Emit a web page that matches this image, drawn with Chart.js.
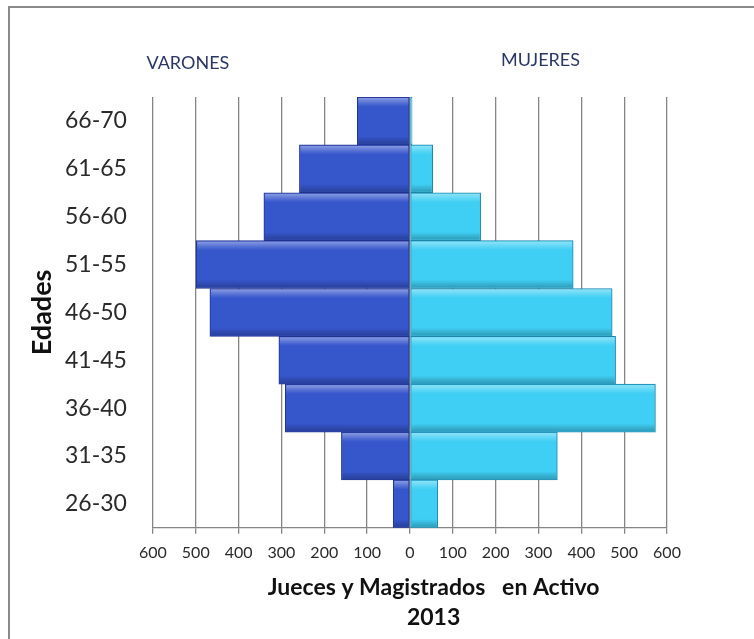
<!DOCTYPE html>
<html>
<head>
<meta charset="utf-8">
<script src="https://cdn.jsdelivr.net/npm/chart.js@4.4.1/dist/chart.umd.min.js"></script>
<style>
    html, body { margin: 0; padding: 0; background: #fff; overflow: hidden; }
    #wrap { position: relative; width: 754px; height: 639px; }
    #frame {
        position: absolute; left: 8px; top: 6px; width: 800px; height: 700px;
        border: 2px solid #8a8a8a; box-sizing: border-box;
    }
    #wrap canvas { position: absolute; left: 0; top: 0; }
</style>
</head>
<body>
<div id="wrap">
    <div id="frame"></div>
    <canvas id="pyramid" width="754" height="639"></canvas>
</div>
<script>
// Age groups, top row first
var ageGroups = ['66-70', '61-65', '56-60', '51-55', '46-50', '41-45', '36-40', '31-35', '26-30'];
// Men are drawn to the left, stored as positive counts
var varones = [123, 258, 341, 499, 467, 306, 291, 160, 39];
var mujeres = [5, 53, 165, 381, 472, 480, 573, 344, 65];
var axisMax = 600;
var axisStep = 100;

(function () {
    var canvas = document.getElementById('pyramid');
    if (!canvas) return;
    var ctx = canvas.getContext('2d');

    // side captions, y title and bottom title, placed relative to the plot area
    var captionsPlugin = {
        id: 'captions',
        afterDraw: function (chart) {
            var c = chart.ctx;
            var ca = chart.chartArea;
            var w = ca.right - ca.left;
            var midX = ca.left + w * 0.546;
            c.save();
            c.textAlign = 'center';
            c.textBaseline = 'middle';
            c.fillStyle = '#2b3763';
            c.font = '18px Lato, sans-serif';
            c.fillText('VARONES', ca.left + w * 0.068, ca.top - 34);
            c.fillText('MUJERES', ca.left + w * 0.754, ca.top - 37);
            c.fillStyle = '#111';
            c.font = 'bold 23px Lato, sans-serif';
            c.fillText('Jueces y Magistrados   en Activo', midX, ca.bottom + 60);
            c.fillText('2013', midX, ca.bottom + 90);
            c.translate(ca.left - 111, (ca.top + ca.bottom) / 2);
            c.rotate(-Math.PI / 2);
            c.font = 'bold 27px Lato, sans-serif';
            c.fillText('Edades', 0, 0);
            c.restore();
        }
    };

    // light top edge / dark bottom edge on each bar, like the bevelled bars
    var bevelPlugin = {
        id: 'bevel',
        afterDatasetsDraw: function (chart) {
            var c = chart.ctx;
            chart.data.datasets.forEach(function (ds, di) {
                var meta = chart.getDatasetMeta(di);
                meta.data.forEach(function (bar) {
                    var left = Math.min(bar.x, bar.base);
                    var right = Math.max(bar.x, bar.base);
                    var top = bar.y - bar.height / 2;
                    var h = bar.height;
                    if (right - left < 2) return;
                    var g = c.createLinearGradient(0, top, 0, top + h);
                    g.addColorStop(0, 'rgba(255,255,255,0.45)');
                    g.addColorStop(0.14, 'rgba(255,255,255,0.12)');
                    g.addColorStop(0.2, 'rgba(255,255,255,0)');
                    g.addColorStop(0.82, 'rgba(0,0,0,0)');
                    g.addColorStop(1, 'rgba(0,0,0,0.28)');
                    c.save();
                    c.fillStyle = g;
                    c.fillRect(left + 1, top + 1, right - left - 2, h - 2);
                    c.restore();
                });
            });
        }
    };

    new Chart(ctx, {
        type: 'bar',
        data: {
            labels: ageGroups,
            datasets: [{
                label: 'VARONES',
                data: varones.map(function (v) { return -v; }),
                backgroundColor: '#3656cc',
                borderColor: '#22338e',
                borderWidth: 1,
                borderSkipped: false,
                barPercentage: 1,
                categoryPercentage: 1
            }, {
                label: 'MUJERES',
                data: mujeres,
                backgroundColor: '#3fcff4',
                borderColor: '#1f86a8',
                borderWidth: 1,
                borderSkipped: false,
                barPercentage: 1,
                categoryPercentage: 1
            }]
        },
        options: {
            indexAxis: 'y',
            responsive: false,
            animation: false,
            layout: { padding: { left: 39, right: 87, top: 97, bottom: 68 } },
            plugins: {
                legend: { display: false },
                tooltip: { enabled: false }
            },
            scales: {
                x: {
                    stacked: true,
                    min: -axisMax,
                    max: axisMax,
                    ticks: {
                        stepSize: axisStep,
                        color: '#2a2a2a',
                        padding: 9,
                        font: { size: 16, family: 'Lato, sans-serif' },
                        callback: function (value) { return Math.abs(value); }
                    },
                    grid: { color: '#858585', lineWidth: 1.3, tickLength: 6 },
                    border: { color: '#858585', width: 1.3 }
                },
                y: {
                    stacked: true,
                    ticks: {
                        color: '#2a2a2a',
                        padding: 26,
                        font: { size: 23, family: 'Lato, sans-serif' }
                    },
                    grid: { display: false, drawTicks: false },
                    border: { display: false }
                }
            }
        },
        plugins: [bevelPlugin, captionsPlugin]
    });
})();
</script>
</body>
</html>
